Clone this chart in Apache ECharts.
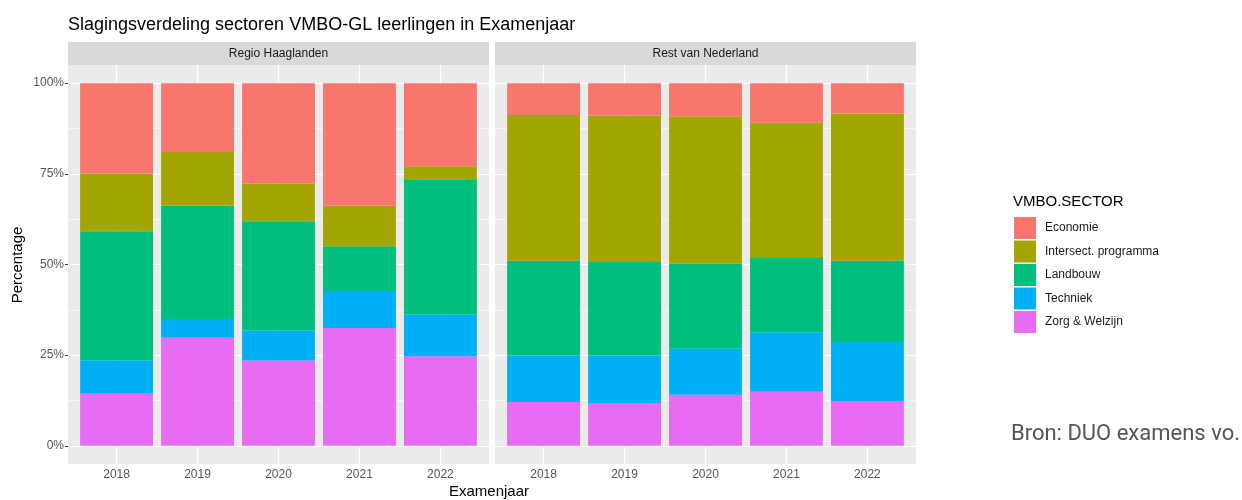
<!DOCTYPE html>
<html>
<head>
<meta charset="utf-8">
<script src="https://cdn.jsdelivr.net/npm/echarts@6/dist/echarts.min.js"></script>
<style>
  html, body { margin: 0; padding: 0; background: #fff; }
  #chart { width: 1242px; height: 500px; }
</style>
</head>
<body>
<div id="chart"></div>
<script>
var years = ['2018', '2019', '2020', '2021', '2022'];
var panels = ['Regio Haaglanden', 'Rest van Nederland'];
var sectors = ['Economie', 'Intersect. programma', 'Landbouw', 'Techniek', 'Zorg & Welzijn'];
var sectorColors = ['#F8766D', '#A3A500', '#00BF7D', '#00B0F6', '#E76BF3'];
var majorTicks = [0, 25, 50, 75, 100];
var minorTicks = [12.5, 37.5, 62.5, 87.5];

// Regio Haaglanden (percentages per year)
var hgEconomie  = [24.9, 19.0, 27.7, 33.8, 22.9];
var hgIntersect = [15.9, 14.8, 10.4, 11.2, 3.8];
var hgLandbouw  = [35.6, 31.2, 30.1, 12.3, 37.1];
var hgTechniek  = [9.2, 5.2, 8.3, 10.2, 11.5];
var hgZorg      = [14.4, 29.8, 23.5, 32.5, 24.7];

// Rest van Nederland
var nlEconomie  = [8.8, 8.9, 9.1, 10.9, 8.4];
var nlIntersect = [40.2, 40.4, 40.7, 37.3, 40.6];
var nlLandbouw  = [26.1, 25.8, 23.4, 20.5, 22.4];
var nlTechniek  = [12.8, 13.1, 12.7, 16.4, 16.2];
var nlZorg      = [12.1, 11.8, 14.1, 14.9, 12.4];

var panelData = [
  [hgEconomie, hgIntersect, hgLandbouw, hgTechniek, hgZorg],
  [nlEconomie, nlIntersect, nlLandbouw, nlTechniek, nlZorg]
];

var font = 'Liberation Sans, Arial, sans-serif';
var plotTop = 65, plotHeight = 399;
var panelBox = [{left: 68, width: 421}, {left: 495, width: 421}];

var grids = [], xAxes = [], yAxes = [], series = [], graphics = [];

panelBox.forEach(function (p, k) {
  var unit = p.width / 5.2;
  var wide = k * 2, bars = k * 2 + 1;
  // panel background + gridlines
  grids.push({left: p.left, top: plotTop, width: p.width, height: plotHeight,
    show: true, backgroundColor: '#EBEBEB', borderWidth: 0});
  // bars, inset by ggplot's discrete expansion
  grids.push({left: p.left + unit * 0.1, top: plotTop, width: unit * 5, height: plotHeight});

  xAxes.push({gridIndex: wide, type: 'value', min: 0.4, max: 5.6, show: false});
  xAxes.push({
    gridIndex: bars, type: 'category', data: years,
    axisLine: {show: false},
    axisTick: {show: true, alignWithLabel: true, length: 3, lineStyle: {color: '#333'}},
    axisLabel: {color: '#555', fontSize: 12, fontFamily: font, margin: 5},
    splitLine: {show: false}
  });

  yAxes.push({
    gridIndex: wide, type: 'value', min: -5, max: 105,
    axisLine: {show: false},
    splitLine: {show: false},
    axisTick: {show: k === 0, customValues: majorTicks, length: 3, lineStyle: {color: '#333'}},
    axisLabel: {show: k === 0, customValues: majorTicks, color: '#555', fontSize: 12,
      fontFamily: font, margin: 4, formatter: function (v) { return v + '%'; }}
  });
  yAxes.push({gridIndex: bars, type: 'value', min: -5, max: 105, show: false});

  var lines = [];
  majorTicks.forEach(function (v) {
    lines.push({yAxis: v, lineStyle: {color: '#fff', width: 1.2, type: 'solid'}});
  });
  minorTicks.forEach(function (v) {
    lines.push({yAxis: v, lineStyle: {color: '#fff', width: 0.6, type: 'solid'}});
  });
  years.forEach(function (y, i) {
    lines.push({xAxis: i + 1, lineStyle: {color: '#fff', width: 1.2, type: 'solid'}});
  });
  series.push({
    type: 'line', xAxisIndex: wide, yAxisIndex: wide, data: [], z: 1, silent: true,
    markLine: {z: 1, silent: true, symbol: ['none', 'none'], label: {show: false},
      emphasis: {disabled: true}, animation: false, data: lines}
  });

  // stack from bottom: Zorg first, Economie on top
  for (var s = sectors.length - 1; s >= 0; s--) {
    series.push({
      name: sectors[s], type: 'bar', stack: 'p' + k,
      xAxisIndex: bars, yAxisIndex: bars,
      barCategoryGap: '10%', z: 3,
      itemStyle: {color: sectorColors[s]},
      emphasis: {disabled: true},
      data: panelData[k][s]
    });
  }

  // facet strip
  graphics.push({type: 'rect', left: p.left, top: 42,
    shape: {width: p.width, height: 23}, style: {fill: '#D9D9D9'}});
  graphics.push({type: 'text', x: p.left + p.width / 2, y: 54,
    style: {text: panels[k], fill: '#1A1A1A', font: '12px ' + font,
      textAlign: 'center', textVerticalAlign: 'middle'}});
});

graphics.push({type: 'text', x: 68, y: 25,
  style: {text: 'Slagingsverdeling sectoren VMBO-GL leerlingen in Examenjaar',
    fill: '#000', font: '18px ' + font, textVerticalAlign: 'middle'}});
graphics.push({type: 'text', x: 18, y: 265, rotation: Math.PI / 2,
  style: {text: 'Percentage', fill: '#000', font: '15px ' + font,
    textAlign: 'center', textVerticalAlign: 'middle'}});
graphics.push({type: 'text', x: 489, y: 492,
  style: {text: 'Examenjaar', fill: '#000', font: '15px ' + font,
    textAlign: 'center', textVerticalAlign: 'middle'}});
graphics.push({type: 'text', x: 1013, y: 202,
  style: {text: 'VMBO.SECTOR', fill: '#000', font: '15px ' + font,
    textVerticalAlign: 'middle'}});
graphics.push({type: 'text', x: 1240, y: 434,
  style: {text: 'Bron: DUO examens vo.', fill: '#555', font: '22px Roboto, sans-serif',
    textAlign: 'right', textVerticalAlign: 'middle'}});

var option = {
  animation: false,
  grid: grids,
  xAxis: xAxes,
  yAxis: yAxes,
  legend: {
    data: sectors, orient: 'vertical', left: 1009, top: 212,
    icon: 'rect', itemWidth: 22, itemHeight: 22, itemGap: 1.5,
    selectedMode: false,
    textStyle: {color: '#1A1A1A', fontSize: 12, fontFamily: font, padding: [0, 0, 0, 4]}
  },
  graphic: graphics,
  series: series
};

var chart = echarts.init(document.getElementById('chart'));
chart.setOption(option);
</script>
</body>
</html>
